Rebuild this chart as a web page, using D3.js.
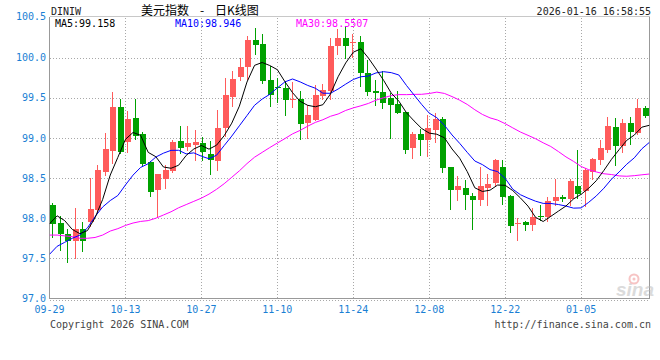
<!DOCTYPE html>
<html><head><meta charset="utf-8">
<script src="https://cdn.jsdelivr.net/npm/d3@7"></script>
<style>html,body{margin:0;padding:0;background:#fff;}svg{display:block}</style>
</head><body>
<svg id="c" width="660" height="360"></svg>
<script>
// ---------- data ----------
const dates = [
 "09-29","09-30","10-01","10-02","10-03","10-06","10-07","10-08","10-09","10-10",
 "10-13","10-14","10-15","10-16","10-17","10-20","10-21","10-22","10-23","10-24",
 "10-27","10-28","10-29","10-30","10-31","11-03","11-04","11-05","11-06","11-07",
 "11-10","11-11","11-12","11-13","11-14","11-17","11-18","11-19","11-20","11-21",
 "11-24","11-25","11-26","11-27","11-28","12-01","12-02","12-03","12-04","12-05",
 "12-08","12-09","12-10","12-11","12-12","12-15","12-16","12-17","12-18","12-19",
 "12-22","12-23","12-24","12-25","12-26","12-29","12-30","12-31","01-01","01-02",
 "01-05","01-06","01-07","01-08","01-09","01-12","01-13","01-14","01-15","01-16"];
const open = [
 98.17,97.94,97.80,97.72,97.87,97.95,98.10,98.57,98.84,99.39,
 98.95,99.25,99.05,98.70,98.35,98.49,98.59,98.96,98.89,98.91,
 98.94,98.80,98.71,99.12,99.51,99.76,99.88,100.22,100.17,99.72,
 99.64,99.62,99.47,99.48,99.18,99.22,99.52,99.58,100.14,100.24,
 100.19,100.20,99.81,99.59,99.57,99.50,99.42,99.32,98.87,99.05,
 98.97,99.10,99.23,98.64,98.35,98.38,98.28,98.23,98.38,98.44,
 98.64,98.28,97.94,97.95,97.92,98.03,98.02,98.22,98.27,98.24,
 98.40,98.34,98.57,98.73,98.85,99.13,98.90,99.19,99.06,99.37];
const high = [
 98.19,98.03,97.86,98.13,97.95,98.50,98.66,99.06,99.57,99.48,
 99.34,99.48,99.08,98.71,98.55,98.66,98.98,99.15,99.15,99.10,
 99.01,98.96,99.35,99.75,99.83,99.99,100.27,100.37,100.30,99.90,
 99.75,99.71,99.70,99.59,99.41,99.66,99.67,100.25,100.36,100.40,
 100.30,100.27,99.97,99.72,99.83,99.56,99.58,99.32,99.08,99.11,
 99.28,99.31,99.26,98.64,98.53,98.48,98.32,98.64,98.55,98.74,
 98.73,98.29,98.00,97.96,98.13,98.17,98.27,98.49,98.29,98.49,
 98.85,98.62,98.75,98.98,99.26,99.25,99.23,99.26,99.49,99.40];
const low = [
 97.76,97.61,97.46,97.51,97.59,97.90,98.08,98.54,98.69,98.81,
 98.82,98.99,98.65,98.28,98.01,98.38,98.58,98.81,98.85,98.72,
 98.73,98.55,98.60,99.02,99.40,99.72,99.74,100.05,99.68,99.40,
 99.45,99.28,99.39,98.99,99.00,99.22,99.48,99.48,100.04,99.99,
 100.01,99.65,99.54,99.41,99.37,99.00,99.31,98.81,98.75,98.79,
 98.78,98.95,98.58,98.12,98.23,98.12,97.86,98.16,98.16,98.40,
 98.18,97.83,97.73,97.85,97.85,97.98,97.97,98.16,98.22,98.16,
 98.25,98.15,98.49,98.67,98.83,98.66,98.83,98.92,99.05,99.26];
const close = [
 97.93,97.80,97.72,97.87,97.72,98.12,98.60,98.86,99.39,98.82,
 99.24,99.03,98.68,98.33,98.55,98.60,98.95,98.87,98.94,98.95,
 98.82,98.72,99.12,99.53,99.73,99.88,100.22,100.16,99.71,99.54,
 99.62,99.47,99.48,99.17,99.29,99.53,99.60,100.15,100.24,100.15,
 100.20,99.81,99.57,99.56,99.44,99.41,99.31,98.85,99.05,98.97,
 99.12,99.24,98.63,98.35,98.40,98.285,98.23,98.40,98.43,98.72,
 98.27,97.90,97.945,97.92,98.02,98.01,98.22,98.27,98.24,98.46,
 98.30,98.60,98.74,98.88,99.15,98.90,99.18,99.07,99.37,99.27];
const ma5Head  = [97.93,98.03,97.97,97.86];
const ma10Head = [97.55,97.65,97.70,97.75,97.79,97.88,98.02,98.14,98.22];
const ma30Head = [97.79,97.79,97.78,97.77,97.75,97.75,97.76,97.79,97.84,97.87,
                  97.91,97.94,97.96,97.97,98.00,98.04,98.08,98.13,98.17,98.21,
                  98.25,98.30,98.36,98.43,98.51,98.59,98.68,98.76,98.82];
const yTicks = [97.0,97.5,98.0,98.5,99.0,99.5,100.0,100.5];
const xTickIndex = [0,10,20,30,40,50,60,70];
const symbol = "DINIW";
const titleA = "美元指数", titleDash = "-", titleB = "日K线图";
const stamp = "2026-01-16 16:58:55";
const copyright = "Copyright 2026 SINA.COM", site = "http://finance.sina.com.cn";

// ---------- drawing ----------
const svg = d3.select("#c");
const mono = "'DejaVu Sans Mono', monospace";
const blueLbl = "#1a7fd4";
const upC = "#ff5b5b", dnC = "#00a100";
const n = dates.length;
const pL = 49.5, pR = 649.5, pT = 17.5, pB = 298.5;
const y = d3.scaleLinear().domain([97, 100.5]).range([pB, pT]);
const xb = d3.scaleBand().domain(d3.range(n)).range([pL, pR]);
const xl = d3.scaleLinear().domain([0, n - 1]).range([pL, pR]);

// grid
const g = svg.append("g").attr("shape-rendering", "crispEdges");
yTicks.filter(v => v > 97 && v < 100.5).forEach(v => {
  const yy = Math.round(y(v)) + 0.5;
  g.append("line").attr("x1", pL).attr("x2", pR).attr("y1", yy).attr("y2", yy)
   .attr("stroke", "#a8a8a8").attr("stroke-dasharray", "1,2");
});
xTickIndex.filter(i => i > 0).forEach(i => {
  const xx = Math.round(xl(i)) + 0.5;
  g.append("line").attr("x1", xx).attr("x2", xx).attr("y1", pT).attr("y2", pB)
   .attr("stroke", "#a8a8a8").attr("stroke-dasharray", "1,2");
});
// frame
g.append("line").attr("x1", pL).attr("x2", pR).attr("y1", pT - 1).attr("y2", pT - 1).attr("stroke", "#c8c8c8");
g.append("line").attr("x1", pL).attr("x2", pL).attr("y1", pT - 1).attr("y2", pB).attr("stroke", "#999");
g.append("line").attr("x1", pR).attr("x2", pR).attr("y1", pT - 1).attr("y2", pB).attr("stroke", "#999");
g.append("line").attr("x1", pL).attr("x2", pR).attr("y1", pB).attr("y2", pB).attr("stroke", "#999");
g.append("line").attr("x1", pL).attr("x2", pR).attr("y1", pB + 2).attr("y2", pB + 2)
 .attr("stroke", "#a8a8a8").attr("stroke-dasharray", "1,2");

// y labels
svg.append("g").selectAll("text").data(yTicks).join("text")
  .attr("x", 46).attr("y", v => (v === 100.5 ? y(v) - 1.5 : y(v)) ).attr("dy", "0.36em")
  .attr("text-anchor", "end").attr("font-family", mono).attr("font-size", 10)
  .attr("fill", blueLbl).text(v => v.toFixed(1));
// x labels
svg.append("g").selectAll("text").data(xTickIndex).join("text")
  .attr("x", i => xl(i)).attr("y", 312.5).attr("text-anchor", "middle")
  .attr("font-family", mono).attr("font-size", 10).attr("fill", blueLbl)
  .text(i => dates[i]);

// watermark
const wm = svg.append("g").attr("opacity", 0.5);
wm.append("text").attr("x", 616).attr("y", 296).attr("font-family", "'Liberation Sans', Arial, sans-serif")
  .attr("font-size", 19).attr("font-style", "italic").attr("font-weight", "bold")
  .attr("fill", "#b8b8b8").text("sina");
wm.append("circle").attr("cx", 634).attr("cy", 279).attr("r", 4.5).attr("fill", "none")
  .attr("stroke", "#f08a8a").attr("stroke-width", 2);
wm.append("circle").attr("cx", 634).attr("cy", 279).attr("r", 1.5).attr("fill", "#f08a8a");

// candles
const bw = xb.bandwidth(), bodyW = 6;
const cg = svg.append("g").attr("shape-rendering", "crispEdges");
d3.range(n).forEach(i => {
  const up = close[i] >= open[i];
  const col = up ? upC : dnC;
  const left = Math.round(xb(i) + (bw - bodyW) / 2);
  const wx = left + 2.5;
  cg.append("line").attr("x1", wx).attr("x2", wx)
    .attr("y1", Math.round(y(high[i]))).attr("y2", Math.round(y(low[i])) + 1)
    .attr("stroke", col);
  const t = Math.round(y(Math.max(open[i], close[i])));
  const b = Math.round(y(Math.min(open[i], close[i])));
  cg.append("rect").attr("x", left).attr("y", t).attr("width", bodyW)
    .attr("height", Math.max(1, b - t)).attr("fill", col);
});

// moving averages
function movingAvg(k, head) {
  return close.map((c, i) => i >= k - 1 ? d3.mean(close.slice(i - k + 1, i + 1)) : head[i]);
}
const ma5 = movingAvg(5, ma5Head), ma10 = movingAvg(10, ma10Head), ma30 = movingAvg(30, ma30Head);
svg.append("clipPath").attr("id", "clip").append("rect")
  .attr("x", pL).attr("y", pT).attr("width", pR - pL).attr("height", pB - pT);
const line = d3.line().x((d, i) => xl(i)).y(d => y(d));
const mg = svg.append("g").attr("clip-path", "url(#clip)");
[[ma30, "#ff00ff"], [ma10, "#0000ff"], [ma5, "#000000"]].forEach(([arr, c]) => {
  mg.append("path").attr("d", line(arr)).attr("fill", "none").attr("stroke", c).attr("stroke-width", 1);
});

// legend
const lg = svg.append("g").attr("font-family", mono).attr("font-size", 10);
lg.append("text").attr("x", 55).attr("y", 27).attr("fill", "#000").text("MA5:" + ma5[n - 1].toFixed(3));
lg.append("text").attr("x", 175).attr("y", 27).attr("fill", "#0000ff").text("MA10:" + ma10[n - 1].toFixed(3));
lg.append("text").attr("x", 296).attr("y", 27).attr("fill", "#ff00ff").text("MA30:" + ma30[n - 1].toFixed(4));

// header
svg.append("text").attr("x", 51).attr("y", 15).attr("font-family", mono).attr("font-size", 10)
  .attr("fill", "#222").text(symbol);
const cjk = "'Noto Sans CJK SC', sans-serif";
svg.append("text").attr("x", 141).attr("y", 15).attr("font-family", cjk).attr("font-size", 12).attr("fill", "#000").text(titleA);
svg.append("text").attr("x", 202).attr("y", 15).attr("text-anchor", "middle").attr("font-family", cjk).attr("font-size", 12).attr("fill", "#000").text(titleDash);
svg.append("text").attr("x", 215).attr("y", 15).attr("font-family", cjk).attr("font-size", 12).attr("fill", "#000").text(titleB);
svg.append("text").attr("x", 651).attr("y", 15).attr("text-anchor", "end").attr("font-family", mono)
  .attr("font-size", 10).attr("fill", "#222").text(stamp);

// footer
svg.append("text").attr("x", 50).attr("y", 328).attr("font-family", mono).attr("font-size", 10)
  .attr("fill", "#444").text(copyright);
svg.append("text").attr("x", 651).attr("y", 328).attr("text-anchor", "end").attr("font-family", mono)
  .attr("font-size", 10).attr("fill", "#444").text(site);
</script>
</body></html>
